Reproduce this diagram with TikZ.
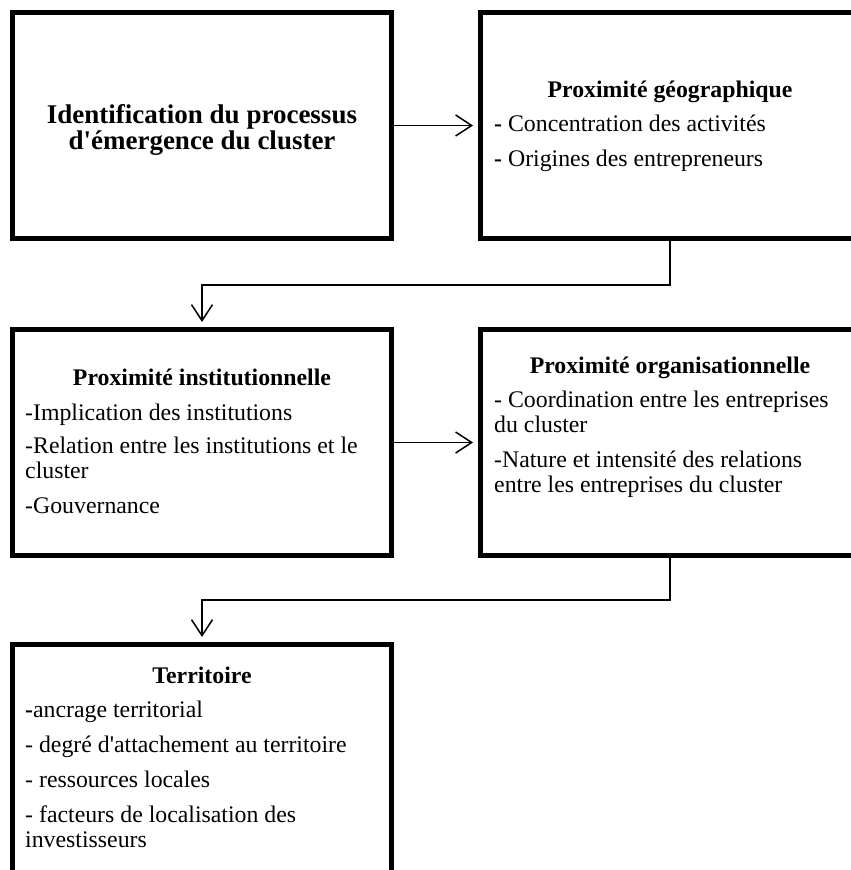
\documentclass[tikz,border=0pt]{standalone}
\usepackage{fontspec}
\setmainfont{Liberation Serif}
\usetikzlibrary{positioning,arrows.meta}

\begin{document}
\begin{tikzpicture}[
  x=1pt, y=-1pt,
  box/.style={draw, line width=5pt, minimum width=379pt, minimum height=226pt, inner sep=0pt},
  head/.style={font=\fontsize{23.8}{25}\selectfont\bfseries, anchor=base, inner sep=0pt},
  body/.style={font=\fontsize{23.8}{25}\selectfont, anchor=north west, align=left, inner sep=0pt},
  arr/.style={-{Straight Barb[length=16pt,width=21pt]}, line width=1.5pt, shorten >=5pt}
]
\clip (0,0) rectangle (851,870);

\node[box] (ident) at (202,125.5) {};
\node[box, right=84pt of ident] (geo) {};
\node[box, below=86pt of ident] (inst) {};
\node[box, right=84pt of inst] (org) {};
\node[box, below=84pt of inst, minimum height=250pt, anchor=north] (terr) {};

% texts
\node[align=center, inner sep=0pt, font=\fontsize{27}{26}\selectfont\bfseries, yshift=-4pt] (identTxt) at (ident) {Identification du processus\\d\textquotesingle émergence du cluster};

\node[head] (geoHead) at ([yshift=-87.5pt]geo.north) {Proximité géographique};
\node[body] (geoTxt) at ([xshift=16pt,yshift=-103.5pt]geo.north west)
  {\rule{0pt}{18pt}\textbf{-} Concentration des activités\\[10pt]
   \textbf{-} Origines des entrepreneurs};

\node[head] (instHead) at ([yshift=-58.5pt]inst.north) {Proximité institutionnelle};
\node[body] (instTxt) at ([xshift=15pt,yshift=-75.5pt]inst.north west)
  {\rule{0pt}{18pt}-Implication des institutions\\[8pt]
   -Relation entre les institutions et le\\
   cluster\\[10pt]
   -Gouvernance};

\node[head] (orgHead) at ([yshift=-46.5pt]org.north) {Proximité organisationnelle};
\node[body] (orgTxt) at ([xshift=16pt,yshift=-62.5pt]org.north west)
  {\rule{0pt}{18pt}- Coordination entre les entreprises\\
   du cluster\\[10pt]
   -Nature et intensité des relations\\
   entre les entreprises du cluster};

\node[head] (terrHead) at ([yshift=-41.5pt]terr.north) {Territoire};
\node[body] (terrTxt) at ([xshift=15pt,yshift=-57.5pt]terr.north west)
  {\rule{0pt}{18pt}\textbf{-}ancrage territorial\\[10pt]
   - degré d\textquotesingle attachement au territoire\\[10pt]
   - ressources locales\\[10pt]
   - facteurs de localisation des\\
   investisseurs};

\draw[arr] (ident) -- (geo);
\draw[arr] (geo.south) -- ++(0,44) -| (inst.north);
\draw[arr] (inst) -- (org);
\draw[arr] (org.south) -- ++(0,42) -| (terr.north);
\end{tikzpicture}
\end{document}
